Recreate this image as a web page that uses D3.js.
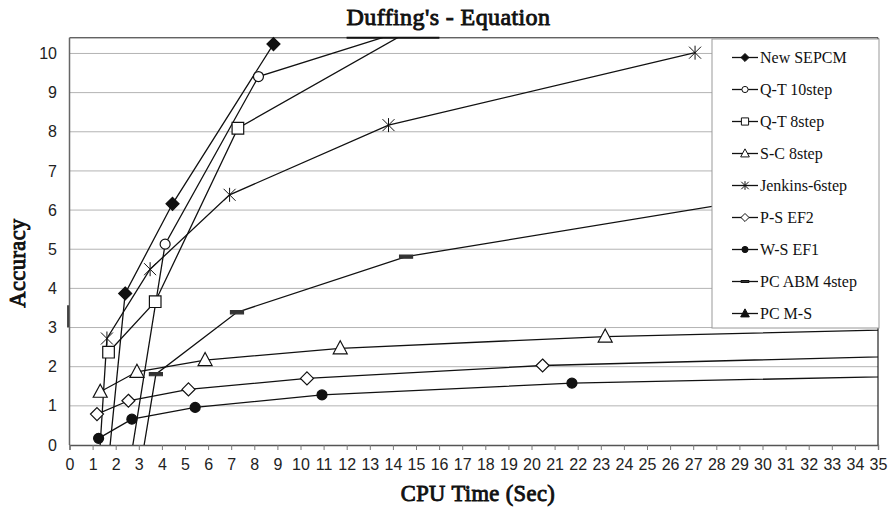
<!DOCTYPE html>
<html>
<head>
<meta charset="utf-8">
<script src="https://cdn.jsdelivr.net/npm/d3@7/dist/d3.min.js"></script>
<style>
  body { margin: 0; background: #fff; }
  svg { display: block; }
</style>
</head>
<body>
<script>
// Duffing's equation - accuracy against CPU time
var xTicks = d3.range(0, 36, 1);
var yTicks = d3.range(0, 11, 1);

var seriesNames = ['New SEPCM', 'Q-T 10step', 'Q-T 8step', 'S-C 8step', 'Jenkins-6step',
                   'P-S EF2', 'W-S EF1', 'PC ABM 4step', 'PC M-S'];

// [cpu time, accuracy]; points outside the axes are only there to give the clipped segments
var newSepcm = [[1.59, -1], [2.41, 3.87], [4.46, 6.16], [8.83, 10.24]];
var qt10 = [[2.47, -1], [4.14, 5.13], [8.18, 9.41], [14.6, 10.6]];
var qt8 = [[1.69, 2.37], [3.71, 3.66], [7.29, 8.09], [15.0, 10.67]];
var sc8 = [[1.33, 1.36], [2.92, 1.87], [5.87, 2.17], [11.72, 2.47], [23.19, 2.77], [40, 3.0]];
var jenkins = [[1.22, -1], [1.62, 2.72], [3.49, 4.49], [6.93, 6.39], [13.81, 8.17], [27.08, 10.02]];
var psEf2 = [[1.19, 0.79], [2.55, 1.13], [5.15, 1.42], [10.28, 1.70], [20.48, 2.03], [40, 2.33]];
var wsEf1 = [[1.26, 0.17], [2.70, 0.66], [5.44, 0.96], [10.93, 1.28], [21.75, 1.58], [40, 1.80]];
var pcAbm = [[2.95, -1], [3.74, 1.81], [7.25, 3.39], [14.57, 4.81], [32, 6.5]];
var pcMs = [];

var seriesData = [newSepcm, qt10, qt8, sc8, jenkins, psEf2, wsEf1, pcAbm, pcMs];
var seriesMarkers = ['diamondFilled', 'circleOpen', 'squareOpen', 'triangleOpen', 'star',
                     'diamondOpen', 'circleFilled', 'dash', 'triangleFilled'];

var svgWidth = 894, svgHeight = 508;
var sans = '"Liberation Sans", Arial, Helvetica, sans-serif';
var serif = '"Liberation Serif", "Times New Roman", serif';

var x = d3.scaleLinear().domain([0, 35]).range([69.5, 878]);
var y = d3.scaleLinear().domain([0, 10.4]).range([445, 37.8]);

var svg = d3.select('body').append('svg')
  .attr('width', svgWidth)
  .attr('height', svgHeight);

svg.append('defs').append('clipPath').attr('id', 'plotClip')
  .append('rect')
  .attr('x', x(0)).attr('y', y(10.4))
  .attr('width', x(35) - x(0)).attr('height', y(0) - y(10.4));

// gridlines
svg.selectAll('.grid')
  .data(yTicks.filter(function(d) { return d > 0; }))
  .enter().append('line')
  .attr('class', 'grid')
  .attr('x1', x(0)).attr('x2', x(35))
  .attr('y1', function(d) { return y(d); })
  .attr('y2', function(d) { return y(d); })
  .attr('stroke', '#b3b3b3')
  .attr('stroke-width', 1);

// frame: top and right dark, left axis grey
svg.append('line')
  .attr('x1', x(0)).attr('x2', x(35)).attr('y1', y(10.4)).attr('y2', y(10.4))
  .attr('stroke', '#222').attr('stroke-width', 1);
svg.append('line')
  .attr('x1', x(35)).attr('x2', x(35)).attr('y1', y(10.4)).attr('y2', y(0))
  .attr('stroke', '#222').attr('stroke-width', 1.2);
svg.append('line')
  .attr('x1', x(0)).attr('x2', x(0)).attr('y1', y(10.4)).attr('y2', y(0))
  .attr('stroke', '#666').attr('stroke-width', 1.5);

// x axis
var xAxis = svg.append('g')
  .attr('transform', 'translate(0,' + y(0) + ')')
  .call(d3.axisBottom(x).tickValues(xTicks).tickSize(5).tickPadding(8.5).tickFormat(d3.format('d')));
xAxis.select('.domain').attr('stroke', '#555').attr('stroke-width', 1.3);
xAxis.selectAll('.tick line').attr('stroke', '#777');
xAxis.selectAll('text').attr('font-family', sans).attr('font-size', 16).attr('fill', '#222');

// y axis labels
var yAxis = svg.append('g')
  .attr('transform', 'translate(' + x(0) + ',0)')
  .call(d3.axisLeft(y).tickValues(yTicks).tickSize(0).tickPadding(12.5).tickFormat(d3.format('d')));
yAxis.select('.domain').remove();
yAxis.selectAll('text').attr('font-family', sans).attr('font-size', 16).attr('fill', '#222');

// small dark stub on the left axis, as in the scan
svg.append('line')
  .attr('x1', x(0) - 1.5).attr('x2', x(0) - 1.5)
  .attr('y1', y(3.0)).attr('y2', y(3.57))
  .attr('stroke', '#111').attr('stroke-width', 1.5);

function markerPath(kind, s) {
  var h;
  if (kind.indexOf('diamond') === 0) {
    h = 6.5 * s;
    return 'M0,' + (-h) + 'L' + h + ',0L0,' + h + 'L' + (-h) + ',0Z';
  }
  if (kind.indexOf('circle') === 0) {
    h = 5 * s;
    return 'M' + h + ',0A' + h + ',' + h + ' 0 1 1 ' + (-h) + ',0A' + h + ',' + h + ' 0 1 1 ' + h + ',0Z';
  }
  if (kind === 'squareOpen') {
    h = 5.8 * s;
    return 'M' + (-h) + ',' + (-h) + 'H' + h + 'V' + h + 'H' + (-h) + 'Z';
  }
  if (kind.indexOf('triangle') === 0) {
    return 'M0,' + (-7.5 * s) + 'L' + (7 * s) + ',' + (5.5 * s) + 'L' + (-7 * s) + ',' + (5.5 * s) + 'Z';
  }
  if (kind === 'star') {
    h = 6 * s;
    return 'M' + (-h) + ',' + (-h) + 'L' + h + ',' + h + 'M' + (-h) + ',' + h + 'L' + h + ',' + (-h) +
           'M0,' + (-7 * s) + 'L0,' + (7 * s);
  }
  // dash
  return 'M' + (-6.5 * s) + ',' + (-1.6 * s) + 'h' + (13 * s) + 'v' + (3.2 * s) + 'h' + (-13 * s) + 'Z';
}
function markerFill(kind) {
  if (kind === 'star') return 'none';
  if (kind === 'dash') return '#333';
  if (kind.indexOf('Filled') > 0) return '#111';
  return '#fff';
}

var line = d3.line()
  .x(function(d) { return x(d[0]); })
  .y(function(d) { return y(d[1]); });

var lineLayer = svg.append('g').attr('clip-path', 'url(#plotClip)');
seriesData.forEach(function(data, i) {
  if (data.length < 2) return;
  lineLayer.append('path')
    .datum(data)
    .attr('d', line)
    .attr('fill', 'none')
    .attr('stroke', '#111')
    .attr('stroke-width', 1.3);
});

var markerLayer = svg.append('g');
seriesData.forEach(function(data, i) {
  var kind = seriesMarkers[i];
  markerLayer.selectAll('.m' + i)
    .data(data.filter(function(d) { return d[0] >= 0 && d[0] <= 35 && d[1] >= 0 && d[1] <= 10.4; }))
    .enter().append('path')
    .attr('class', 'm' + i)
    .attr('transform', function(d) { return 'translate(' + x(d[0]) + ',' + y(d[1]) + ')'; })
    .attr('d', markerPath(kind, 1))
    .attr('fill', markerFill(kind))
    .attr('stroke', kind === 'dash' ? '#333' : '#111')
    .attr('stroke-width', kind === 'star' ? 1 : 1.2);
});

// legend
var legendX = 712, legendY = 39, legendW = 167, legendH = 289;
var legend = svg.append('g');
legend.append('rect')
  .attr('x', legendX).attr('y', legendY)
  .attr('width', legendW).attr('height', legendH)
  .attr('fill', '#fff').attr('stroke', '#999').attr('stroke-width', 1);

var items = legend.selectAll('.item')
  .data(seriesNames)
  .enter().append('g')
  .attr('class', 'item')
  .attr('transform', function(d, i) { return 'translate(' + legendX + ',' + (legendY + 18.5 + i * 32) + ')'; });
items.append('line')
  .attr('x1', 20).attr('x2', 46).attr('y1', 0).attr('y2', 0)
  .attr('stroke', '#111').attr('stroke-width', 1.3);
items.append('path')
  .attr('transform', 'translate(33,0)')
  .attr('d', function(d, i) { return markerPath(seriesMarkers[i], 0.62); })
  .attr('fill', function(d, i) { return markerFill(seriesMarkers[i]); })
  .attr('stroke', '#111')
  .attr('stroke-width', 1);
items.append('text')
  .attr('x', 48).attr('y', 5.5)
  .attr('font-family', serif).attr('font-size', 16).attr('fill', '#111')
  .text(function(d) { return d; });

// bold serif is drawn as regular serif thickened with a stroke
function boldSerif(sel, size) {
  return sel.attr('font-family', serif).attr('font-size', size)
    .attr('fill', '#111').attr('stroke', '#111').attr('stroke-width', 0.9)
    .attr('letter-spacing', 0.4);
}

// titles
var title = boldSerif(svg.append('text'), 24)
  .attr('x', 448.5).attr('y', 25)
  .attr('text-anchor', 'middle')
  .text("Duffing's - Equation");

// heavy stroke on the top border under "Duffing's" (present in the scan)
var tb = title.node().getBBox();
var firstWord = title.node().getSubStringLength(0, 9);
svg.append('line')
  .attr('x1', tb.x).attr('x2', tb.x + firstWord)
  .attr('y1', y(10.4)).attr('y2', y(10.4))
  .attr('stroke', '#111').attr('stroke-width', 2);

boldSerif(svg.append('text'), 22.5)
  .attr('x', 478).attr('y', 501)
  .attr('text-anchor', 'middle')
  .text('CPU Time (Sec)');

boldSerif(svg.append('text'), 22.5)
  .attr('transform', 'translate(25,263)rotate(-90)')
  .attr('text-anchor', 'middle')
  .text('Accuracy');
</script>
</body>
</html>
